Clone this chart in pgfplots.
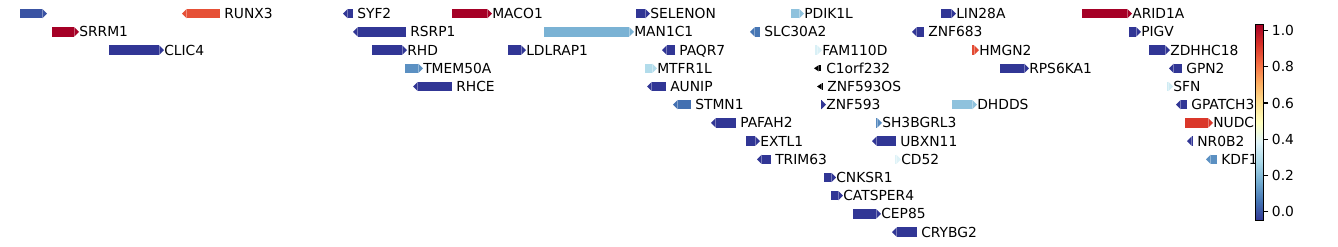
\documentclass[border=0pt]{standalone}
\usepackage{fontspec}
\setmainfont{DejaVu Sans}
\usepackage{pgfplots}
\pgfplotsset{compat=1.18}
\usepackage{pgfplotstable}
\usetikzlibrary{arrows.meta}

% x = tail position, u = signed length (negative: minus strand), r = row, c = value
\pgfplotstableread{
x     u    r   c      lab
20    27   1   0.00   {}
220  -38   1   0.87   RUNX3
353  -10   1  -0.05   SYF2
452   40   1   1.035  MACO1
636   14   1  -0.05   SELENON
791   13   1   0.22   PDIK1L
941   15   1  -0.05   LIN28A
1082  50   1   1.035  ARID1A
52    27   2   1.035  SRRM1
406  -53   2  -0.05   RSRP1
544   90   2   0.18   MAN1C1
760  -10   2   0.06   SLC30A2
924  -12   2  -0.05   ZNF683
1129  12   2  -0.05   PIGV
109   55   3  -0.05   CLIC4
372   35   3  -0.05   RHD
508   18   3  -0.05   LDLRAP1
675  -13   3  -0.05   PAQR7
815    7   3   0.37   FAM110D
972    7   3   0.88   HMGN2
1149  21   3  -0.05   ZDHHC18
405   18   4   0.11   TMEM50A
645   12   4   0.29   MTFR1L
1000  29   4  -0.05   RPS6KA1
1182 -13   4  -0.05   GPN2
452  -39   5  -0.05   RHCE
666  -19   5  -0.05   AUNIP
1167   6   5   0.35   SFN
691  -18   6   0.05   STMN1
821    5   6  -0.05   ZNF593
952   25   6   0.22   DHDDS
1187 -11   6  -0.05   GPATCH3
736  -25   7  -0.05   PAFAH2
876    6   7   0.10   SH3BGRL3
1185  28   7   0.915  NUDC
746   14   8  -0.05   EXTL1
896  -24   8  -0.05   UBXN11
1193  -6   8  -0.05   NR0B2
771  -14   9  -0.05   TRIM63
895    6   9   0.38   CD52
1217 -11   9   0.11   KDF1
824   12  10  -0.05   CNKSR1
831   12  11  -0.05   CATSPER4
853   28  12  -0.05   CEP85
917  -25  13  -0.05   CRYBG2
}\genes

% genes without a value (drawn black)
\pgfplotstableread{
x     u    r   lab
821  -7    4   C1orf232
822  -5    5   ZNF593OS
}\nagenes

\begin{document}
\begin{tikzpicture}
\begin{axis}[
  name=ax,
  width=13.38in, height=2.46in, scale only axis,
  xmin=0, xmax=1338, ymin=0.2473, ymax=13.764, y dir=reverse,
  hide axis, clip=false,
  colormap={rdylbur}{rgb255(0)=(49,54,149) rgb255(1)=(69,117,180) rgb255(2)=(116,173,209)
    rgb255(3)=(171,217,233) rgb255(4)=(224,243,248) rgb255(5)=(255,255,191)
    rgb255(6)=(254,224,144) rgb255(7)=(253,174,97) rgb255(8)=(244,109,67)
    rgb255(9)=(215,48,39) rgb255(10)=(165,0,38)},
  point meta min=-0.05, point meta max=1.035,
  colorbar,
  colorbar shift/.style={},
  colorbar style={
    at={(parent axis.north west)}, anchor=north west,
    xshift=907.2pt, yshift=-17.5pt,
    width=6pt, height=142.1pt, scale only axis,
    ytick={0,0.2,0.4,0.6,0.8,1.0},
    ytick pos=right, yticklabel pos=right,
    tick align=outside, major tick length=3.5pt,
    major tick style={black, line width=0.8pt},
    axis line style={line width=0.8pt},
    scaled y ticks=false,
    yticklabel style={font=\fontsize{10}{12}\selectfont, xshift=-1pt,
      /pgf/number format/.cd, fixed, fixed zerofill, precision=1, assume math mode=true},
  },
]
\addplot[mark=none,
  quiver={u=\thisrow{u}, v=0, colored,
    every arrow/.append style={line width=6.8pt,
      -{Triangle[width=6.8pt 0 0, length=3.4pt 0 0, line width=0pt 0 0]}}},
  point meta=\thisrow{c}]
  table[x=x, y=r] {\genes};
\addplot[mark=none, black,
  quiver={u=\thisrow{u}, v=0,
    every arrow/.append style={line width=4.5pt,
      -{Triangle[width=4.5pt 0 0, length=3.4pt 0 0, line width=0pt 0 0]}}}]
  table[x=x, y=r] {\nagenes};
\addplot[draw=none, mark=none, nodes near coords, point meta=explicit symbolic,
  nodes near coords style={anchor=west, inner sep=0pt, text=black,
    font=\fontsize{10}{12}\selectfont, text height=7.29pt, text depth=0pt}]
  table[x expr={\thisrow{u}>0 ? \thisrow{x}+\thisrow{u} : \thisrow{x}+4}, y=r, meta=lab] {\genes};
\addplot[draw=none, mark=none, nodes near coords, point meta=explicit symbolic,
  nodes near coords style={anchor=west, inner sep=0pt, text=black,
    font=\fontsize{10}{12}\selectfont, text height=7.29pt, text depth=0pt}]
  table[x expr={\thisrow{x}+5}, y=r, meta=lab] {\nagenes};
\end{axis}
\pgfresetboundingbox
\path (ax.south west) rectangle (ax.north east);
\end{tikzpicture}
\end{document}
